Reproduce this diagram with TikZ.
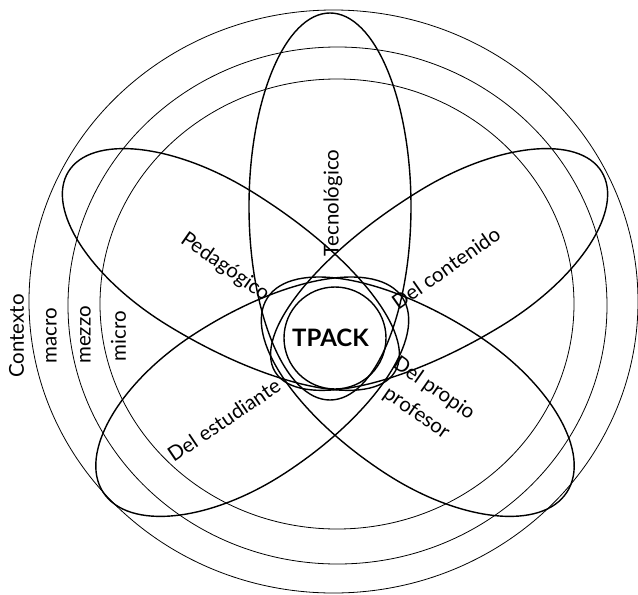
\documentclass[tikz,border=0pt]{standalone}
\usepackage{fontspec}
\setmainfont{Lato}
\begin{document}
\begin{tikzpicture}[x=1pt,y=-1pt,
  ring/.style={line width=0.8pt},
  petal/.style={line width=1.4pt},
  lbl/.style={font=\fontsize{20.5}{30}\selectfont, inner sep=0pt}]
\useasboundingbox (0,0) rectangle (638,595);
% context rings
\draw[ring] (333.5,301.5) ellipse [x radius=304.5pt, y radius=291.5pt];
\draw[ring] (337.5,305.5) ellipse [x radius=269.5pt, y radius=258.5pt];
\draw[ring] (337,304) ellipse [x radius=237pt, y radius=225pt];
% vertical petal
\draw[petal] (330,206.5) ellipse [x radius=81pt, y radius=193.5pt];
% egg-shaped petals: local +x points to the centre
\begin{scope}[shift={(209,258)}, rotate=-31.5]
  \draw[petal] (0,79) arc[start angle=-90, end angle=90, x radius=218pt, y radius=79pt]
    arc[start angle=90, end angle=270, x radius=165pt, y radius=79pt] -- cycle;
\end{scope}
\begin{scope}[shift={(461,258)}, rotate=-148.5]
  \draw[petal] (0,79) arc[start angle=-90, end angle=90, x radius=218pt, y radius=79pt]
    arc[start angle=90, end angle=270, x radius=165pt, y radius=79pt] -- cycle;
\end{scope}
\begin{scope}[shift={(239,404)}, rotate=33]
  \draw[petal] (0,83) arc[start angle=-90, end angle=90, x radius=195pt, y radius=83pt]
    arc[start angle=90, end angle=270, x radius=162pt, y radius=83pt] -- cycle;
\end{scope}
\begin{scope}[shift={(431,404)}, rotate=147]
  \draw[petal] (0,83) arc[start angle=-90, end angle=90, x radius=195pt, y radius=83pt]
    arc[start angle=90, end angle=270, x radius=162pt, y radius=83pt] -- cycle;
\end{scope}
% circle round TPACK
\draw[petal] (335,338) circle [radius=51pt];
% labels
\node[lbl, rotate=90] (ctx) at (16.5,336) {Contexto};
\node[lbl, rotate=90] (mac) at (51.5,336) {macro};
\node[lbl, rotate=90] (mez) at (85.5,335) {mezzo};
\node[lbl, rotate=90] (mic) at (118.5,336) {micro};
\node[lbl, rotate=90] (tec) at (333,203) {Tecnológico};
\node[lbl, rotate=-35] (ped) at (225,267) {Pedagógico};
\node[lbl, rotate=35] (con) at (446,268) {Del contenido};
\node[lbl, rotate=34] (est) at (224,420) {Del estudiante};
\node[lbl, rotate=-35, align=center] (pro) at (425,401) {Del propio\\profesor};
\node[font=\fontsize{24}{27}\selectfont\bfseries, inner sep=0pt] (tp) at (330.5,338) {TPACK};
\end{tikzpicture}
\end{document}
